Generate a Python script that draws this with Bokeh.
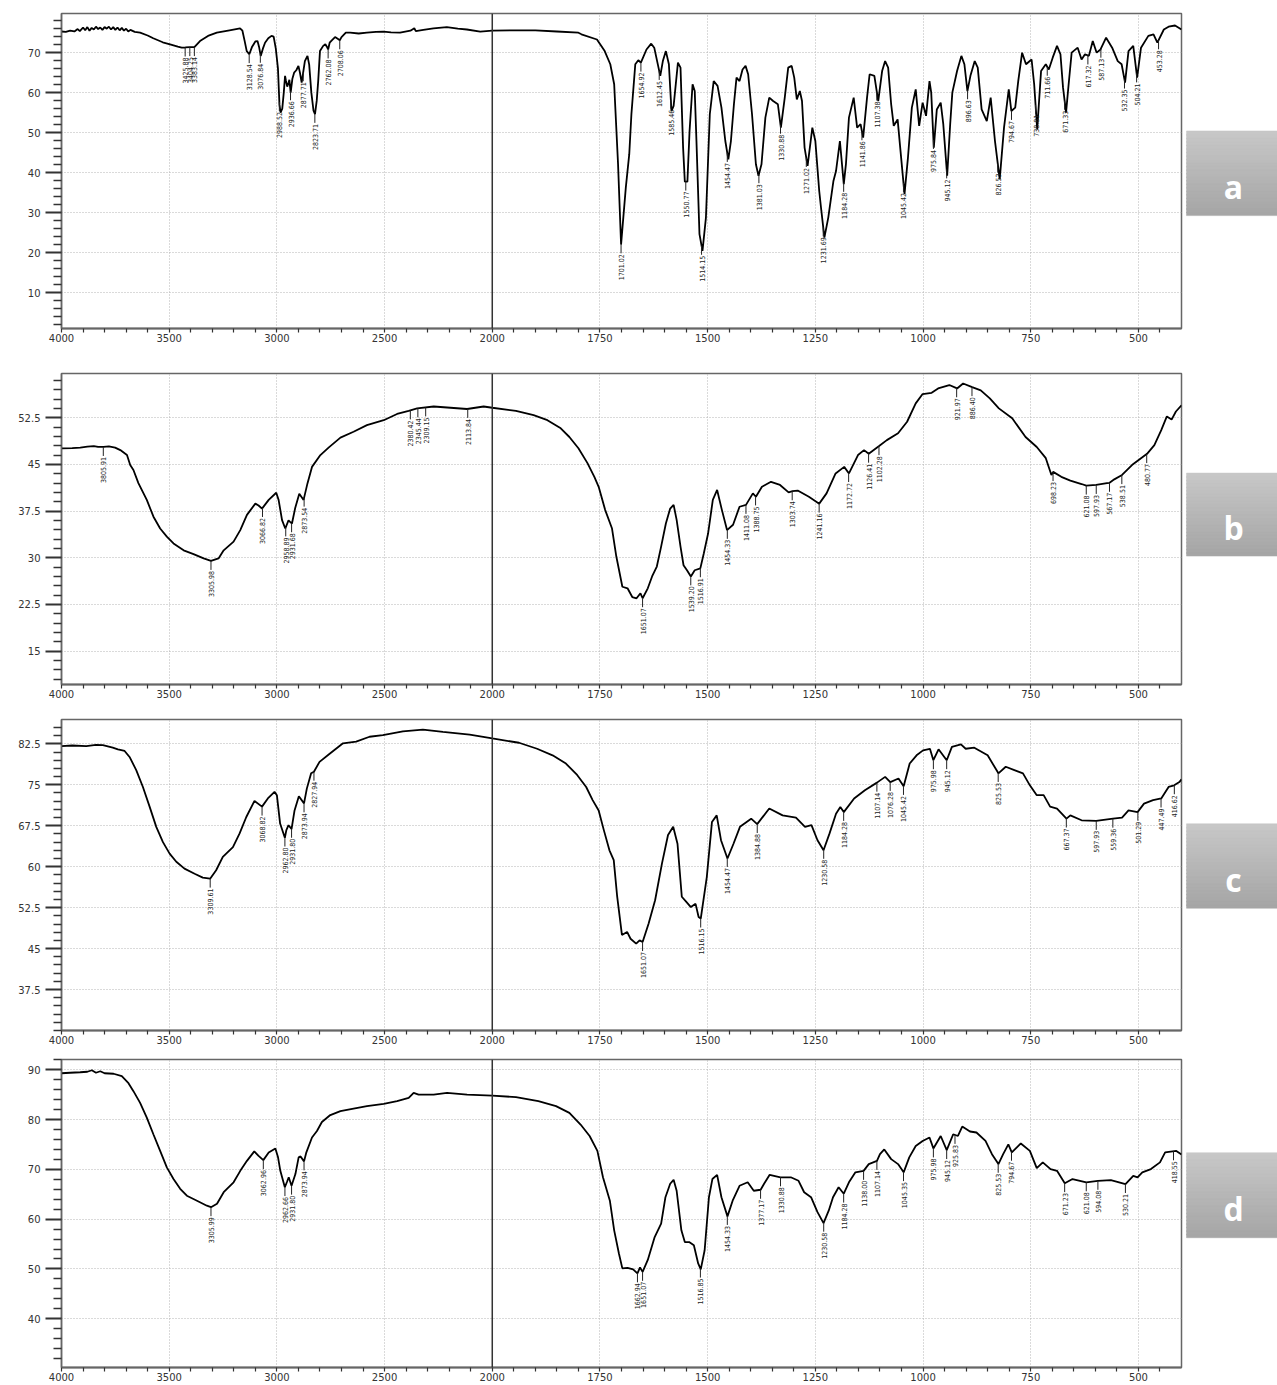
import numpy as np
from bokeh.plotting import figure
from bokeh.models import Range1d, FixedTicker, Span, Label, ColumnDataSource
from bokeh.layouts import column, row
from bokeh.embed import file_html
from bokeh.resources import INLINE
from bokeh.core.properties import value

# ---------------- data (wavenumber cm-1, %T) ----------------
WN_A = [4000, 3980, 3960, 3940, 3925, 3915, 3900, 3890, 3880, 3870,
        3860, 3850, 3840, 3830, 3820, 3810, 3800, 3790, 3780, 3770,
        3760, 3750, 3740, 3730, 3720, 3710, 3700, 3690, 3680, 3660,
        3635, 3600, 3574, 3530, 3496, 3460, 3442, 3425, 3404, 3383,
        3357, 3320, 3279, 3220, 3171, 3160, 3150, 3140, 3128, 3115,
        3100, 3090, 3083, 3075, 3065, 3055, 3040, 3025, 3015, 3005,
        2995, 2988, 2983, 2975, 2968, 2962, 2958, 2952, 2946, 2942,
        2936, 2928, 2920, 2910, 2900, 2893, 2885, 2878, 2870, 2858,
        2850, 2840, 2830, 2823, 2815, 2808, 2800, 2785, 2775, 2768,
        2762, 2755, 2745, 2730, 2716, 2708, 2700, 2680, 2660, 2620,
        2582, 2540, 2505, 2470, 2428, 2380, 2362, 2355, 2320, 2273,
        2211, 2160, 2118, 2056, 2000, 1950, 1900, 1850, 1800, 1793,
        1757, 1739, 1726, 1717, 1708, 1701, 1690, 1682, 1677, 1668,
        1661, 1655, 1642, 1631, 1624, 1610, 1604, 1597, 1590, 1584,
        1579, 1569, 1563, 1557, 1553, 1547, 1542, 1535, 1530, 1526,
        1519, 1512, 1504, 1495, 1486, 1477, 1468, 1459, 1452, 1446,
        1439, 1433, 1426, 1419, 1412, 1406, 1397, 1388, 1382, 1375,
        1366, 1357, 1348, 1337, 1330, 1321, 1313, 1305, 1299, 1293,
        1286, 1281, 1275, 1268, 1257, 1250, 1241, 1236, 1229, 1220,
        1208, 1202, 1193, 1184, 1179, 1172, 1161, 1153, 1145, 1139,
        1130, 1124, 1113, 1104, 1095, 1088, 1081, 1074, 1068, 1059,
        1053, 1043, 1035, 1026, 1017, 1009, 1001, 993, 985, 981,
        975, 968, 959, 953, 944, 937, 932, 921, 911, 904,
        897, 890, 880, 873, 864, 852, 843, 833, 822, 812,
        801, 795, 786, 779, 770, 761, 748, 742, 735, 726,
        715, 708, 699, 689, 681, 675, 668, 662, 655, 641,
        632, 624, 615, 606, 597, 588, 575, 561, 548, 539,
        531, 523, 512, 503, 494, 477, 465, 456, 441, 430,
        415, 400]
T_A = [75.3, 75.2, 75.5, 75.3, 75.9, 75.4, 76.3, 75.6, 76.4, 75.5,
       76.2, 75.8, 76.5, 75.9, 76.3, 75.7, 76.4, 76.0, 76.5, 75.8,
       76.4, 75.7, 76.3, 75.6, 76.2, 75.5, 76.0, 75.3, 75.7, 75.2,
       75.0, 74.3, 73.6, 72.6, 72.1, 71.5, 71.25, 71.3, 71.4, 71.4,
       72.9, 74.2, 75.0, 75.6, 76.1, 75.5, 73.0, 70.4, 69.6, 71.5,
       72.8, 72.9, 71.5, 69.2, 71.0, 72.5, 73.6, 74.2, 74.0, 71.0,
       66.0, 57.0, 55.0, 56.0, 60.0, 64.2, 63.0, 61.5, 62.5, 63.2,
       60.0, 63.5, 65.0, 65.6, 66.7, 65.0, 62.5, 65.0, 67.9, 69.2,
       67.0, 60.0, 55.5, 54.6, 58.0, 63.0, 70.4, 71.7, 72.1, 71.5,
       70.8, 72.5, 73.1, 73.9, 73.4, 73.1, 73.9, 75.0, 75.0, 74.8,
       75.0, 75.2, 75.25, 75.1, 75.0, 75.5, 76.1, 75.4, 75.7, 76.1,
       76.4, 76.0, 75.8, 75.25, 75.5, 75.6, 75.6, 75.3, 75.0, 74.6,
       73.3, 70.4, 67.1, 62.1, 42.1, 22.0, 36.25, 44.6, 54.6, 67.1,
       68.1, 67.5, 70.8, 72.25, 71.25, 64.2, 67.9, 70.4, 67.1, 55.4,
       56.7, 67.5, 66.25, 46.25, 37.75, 37.75, 50.4, 62.1, 60.4, 47.9,
       24.6, 20.4, 28.75, 54.6, 62.9, 61.7, 56.25, 47.9, 43.3, 47.9,
       57.1, 63.75, 62.9, 65.8, 66.7, 64.6, 54.6, 42.1, 39.2, 42.1,
       53.75, 58.75, 57.9, 57.1, 51.25, 58.75, 66.25, 66.7, 63.75, 58.3,
       60.4, 57.9, 46.25, 41.7, 51.25, 47.9, 35.4, 30.4, 23.75, 28.75,
       37.9, 40.4, 47.9, 37.1, 42.1, 53.75, 58.75, 51.25, 52.1, 48.75,
       58.75, 64.6, 64.2, 57.9, 65.4, 67.9, 66.25, 57.1, 51.7, 53.3,
       46.25, 34.6, 43.75, 56.25, 60.8, 51.7, 57.5, 54.2, 62.9, 60.0,
       46.25, 55.8, 57.5, 52.1, 39.2, 52.1, 60.0, 65.4, 69.2, 67.1,
       60.4, 64.2, 67.9, 66.25, 55.8, 52.9, 58.75, 47.9, 38.3, 51.25,
       60.8, 55.4, 56.25, 62.9, 70.0, 67.1, 68.3, 62.1, 50.8, 65.4,
       67.1, 65.8, 68.75, 71.7, 69.6, 61.25, 55.0, 62.1, 70.0, 71.25,
       68.3, 69.6, 69.2, 72.9, 70.0, 70.8, 73.75, 71.25, 67.9, 67.1,
       62.5, 70.4, 71.7, 63.75, 71.25, 74.2, 74.6, 72.5, 75.8, 76.5,
       76.8, 75.8]

WN_B = [4000, 3950, 3913, 3880, 3850, 3830, 3805, 3780, 3751, 3727,
        3696, 3681, 3666, 3643, 3604, 3573, 3542, 3511, 3480, 3433,
        3387, 3340, 3306, 3271, 3247, 3201, 3170, 3139, 3100, 3085,
        3069, 3038, 3003, 2992, 2976, 2961, 2946, 2940, 2930, 2915,
        2896, 2876, 2858, 2837, 2798, 2760, 2705, 2644, 2582, 2504,
        2442, 2388, 2349, 2272, 2194, 2117, 2040, 2000, 1945, 1904,
        1872, 1841, 1821, 1800, 1779, 1763, 1753, 1738, 1722, 1712,
        1698, 1686, 1675, 1665, 1656, 1651, 1639, 1629, 1618, 1608,
        1597, 1587, 1579, 1572, 1563, 1556, 1548, 1539, 1530, 1517,
        1509, 1499, 1488, 1478, 1467, 1455, 1441, 1426, 1411, 1395,
        1388, 1374, 1353, 1332, 1312, 1303, 1291, 1265, 1241, 1224,
        1203, 1183, 1172, 1151, 1137, 1126, 1102, 1084, 1058, 1037,
        1017, 1001, 980, 965, 939, 921, 907, 886, 866, 845,
        824, 793, 762, 736, 715, 702, 698, 679, 658, 632,
        621, 598, 573, 567, 556, 538, 515, 494, 480, 463,
        447, 434, 423, 413, 400]
T_B = [47.57, 47.6, 47.7, 47.85, 47.95, 47.8, 47.8, 47.9, 47.7, 47.3,
       46.5, 44.9, 44.1, 42.0, 39.3, 36.6, 34.7, 33.4, 32.3, 31.2,
       30.6, 29.9, 29.5, 29.9, 31.2, 32.6, 34.45, 36.9, 38.7, 38.4,
       37.9, 39.3, 40.45, 39.3, 36.05, 34.7, 36.0, 35.8, 35.5, 38.0,
       40.3, 39.3, 41.95, 44.6, 46.5, 47.7, 49.3, 50.25, 51.3, 52.1,
       53.1, 53.6, 54.0, 54.3, 54.1, 53.9, 54.3, 54.1, 53.6, 52.9,
       52.1, 50.8, 49.4, 47.6, 45.2, 43.0, 41.4, 37.7, 34.7, 30.2,
       25.35, 25.1, 23.7, 23.5, 24.3, 23.5, 25.1, 27.0, 28.6, 31.8,
       35.5, 37.9, 38.5, 36.1, 31.8, 28.8, 28.0, 27.0, 28.0, 28.3,
       30.7, 33.9, 39.3, 40.9, 37.7, 34.45, 35.3, 38.2, 38.5, 40.35,
       39.8, 41.4, 42.2, 41.7, 40.5, 40.7, 40.8, 39.8, 38.7, 40.35,
       43.55, 44.6, 43.55, 46.5, 47.3, 46.7, 47.95, 48.9, 50.0, 51.85,
       54.8, 56.3, 56.5, 57.2, 57.75, 57.2, 58.0, 57.4, 56.9, 55.6,
       54.0, 52.4, 49.4, 47.8, 46.0, 43.3, 43.8, 43.0, 42.4, 41.85,
       41.6, 41.7, 42.0, 42.05, 42.6, 43.3, 44.9, 46.0, 46.7, 48.1,
       50.5, 52.7, 52.2, 53.5, 54.5]

WN_C = [4000, 3950, 3885, 3840, 3808, 3762, 3738, 3707, 3684, 3653,
        3622, 3591, 3560, 3529, 3498, 3467, 3429, 3382, 3344, 3310,
        3282, 3251, 3204, 3173, 3142, 3104, 3069, 3042, 3011, 3000,
        2985, 2963, 2956, 2946, 2932, 2918, 2898, 2874, 2861, 2841,
        2828, 2802, 2755, 2693, 2632, 2570, 2508, 2415, 2322, 2229,
        2105, 2000, 1938, 1896, 1860, 1829, 1803, 1782, 1767, 1753,
        1741, 1728, 1718, 1710, 1699, 1687, 1679, 1666, 1658, 1651,
        1637, 1622, 1606, 1592, 1580, 1570, 1560, 1549, 1539, 1528,
        1521, 1516, 1502, 1490, 1479, 1469, 1454, 1440, 1425, 1399,
        1385, 1357, 1326, 1295, 1274, 1259, 1245, 1231, 1217, 1202,
        1192, 1184, 1160, 1135, 1107, 1088, 1076, 1057, 1045, 1031,
        1015, 1000, 984, 976, 964, 945, 933, 912, 901, 881,
        850, 825, 808, 788, 768, 752, 736, 720, 705, 689,
        667, 658, 632, 598, 559, 538, 523, 502, 487, 466,
        447, 430, 417, 405, 400]
T_C = [82.1, 82.2, 82.1, 82.3, 82.25, 81.8, 81.5, 81.2, 80.1, 77.7,
       74.6, 71.0, 67.3, 64.5, 62.4, 60.9, 59.65, 58.7, 58.0, 57.8,
       59.35, 61.8, 63.6, 66.1, 69.1, 72.05, 71.0, 72.5, 73.7, 73.1,
       67.9, 65.3, 66.7, 67.6, 66.9, 70.3, 72.9, 71.6, 74.3, 77.1,
       77.4, 79.2, 80.7, 82.6, 82.9, 83.8, 84.1, 84.8, 85.1, 84.7,
       84.2, 83.5, 82.7, 81.6, 80.4, 78.9, 76.8, 74.6, 72.2, 70.3,
       66.7, 63.0, 61.2, 54.5, 47.5, 48.05, 46.8, 45.9, 46.5, 46.2,
       49.6, 53.85, 60.6, 65.8, 67.3, 64.2, 54.5, 53.5, 52.6, 53.2,
       50.8, 50.5, 58.1, 68.2, 69.4, 64.85, 61.5, 64.2, 67.3, 68.8,
       67.8, 70.65, 69.4, 69.0, 67.3, 67.6, 64.85, 63.0, 66.1, 69.7,
       70.95, 70.0, 72.5, 74.0, 75.4, 76.45, 75.5, 76.15, 74.75, 78.9,
       80.4, 81.3, 81.6, 79.5, 81.5, 79.5, 81.95, 82.4, 81.6, 81.8,
       80.4, 77.1, 78.3, 77.7, 77.1, 74.9, 73.1, 73.1, 71.0, 70.65,
       68.8, 69.4, 68.5, 68.4, 68.8, 69.0, 70.3, 70.0, 71.55, 72.2,
       72.5, 74.6, 74.9, 75.5, 76.0]

WN_D = [4000, 3960, 3913, 3880, 3859, 3840, 3820, 3800, 3758, 3720,
        3689, 3666, 3635, 3604, 3573, 3542, 3511, 3480, 3449, 3418,
        3371, 3325, 3306, 3278, 3247, 3201, 3170, 3139, 3105, 3085,
        3063, 3038, 3007, 2995, 2984, 2963, 2952, 2945, 2932, 2914,
        2899, 2890, 2874, 2864, 2837, 2814, 2791, 2752, 2705, 2644,
        2582, 2504, 2442, 2388, 2365, 2342, 2272, 2210, 2117, 2000,
        1945, 1893, 1852, 1821, 1795, 1774, 1756, 1743, 1727, 1717,
        1706, 1698, 1686, 1673, 1663, 1657, 1651, 1639, 1623, 1608,
        1598, 1587, 1579, 1572, 1561, 1553, 1543, 1532, 1522, 1516,
        1507, 1497, 1489, 1478, 1468, 1454, 1442, 1426, 1407, 1393,
        1377, 1369, 1356, 1331, 1307, 1289, 1276, 1260, 1245, 1231,
        1219, 1209, 1196, 1184, 1172, 1157, 1138, 1126, 1107, 1100,
        1090, 1074, 1058, 1045, 1032, 1017, 1001, 985, 976, 959,
        945, 930, 919, 909, 891, 876, 855, 840, 825, 814,
        802, 794, 773, 752, 736, 722, 704, 689, 671, 653,
        621, 594, 564, 530, 512, 502, 491, 471, 450, 438,
        412, 400]
T_D = [89.3, 89.4, 89.5, 89.6, 89.9, 89.4, 89.7, 89.3, 89.2, 88.7,
       87.3, 85.7, 83.35, 80.4, 77.0, 73.7, 70.4, 68.05, 66.1, 64.7,
       63.7, 62.7, 62.4, 63.1, 65.4, 67.4, 69.7, 71.7, 73.6, 72.7,
       71.85, 73.4, 74.2, 72.5, 69.7, 66.4, 67.6, 68.4, 66.7, 69.05,
       72.4, 72.6, 71.6, 73.3, 76.4, 77.7, 79.5, 80.9, 81.7, 82.2,
       82.7, 83.15, 83.7, 84.35, 85.35, 85.0, 85.0, 85.35, 85.0, 84.8,
       84.5, 83.7, 82.7, 81.35, 79.0, 76.7, 73.7, 68.4, 63.7, 57.75,
       53.1, 50.1, 50.2, 49.9, 49.1, 50.3, 49.4, 51.8, 56.4, 59.1,
       64.4, 67.1, 67.9, 65.7, 57.75, 55.4, 55.4, 54.75, 51.1, 49.9,
       53.75, 64.4, 68.05, 68.9, 64.4, 60.55, 63.7, 66.7, 67.4, 65.7,
       65.9, 67.1, 68.9, 68.4, 68.4, 67.7, 65.4, 64.4, 61.4, 59.2,
       61.7, 64.4, 66.4, 65.1, 67.4, 69.4, 69.7, 71.05, 71.7, 73.05,
       74.0, 72.05, 71.05, 69.4, 72.4, 74.7, 75.7, 76.4, 74.2, 76.7,
       73.85, 77.05, 76.7, 78.6, 77.6, 77.4, 75.7, 73.05, 71.05, 73.05,
       75.0, 73.4, 75.2, 73.7, 70.25, 71.4, 70.05, 69.7, 67.2, 68.05,
       67.4, 67.7, 67.85, 67.05, 68.7, 68.4, 69.4, 70.05, 71.4, 73.4,
       73.7, 73.0]

# peak labels
LBL_A = ["3425.88", "3404.25", "3383.14", "3128.54", "3076.84", "2988.52", "2936.66",
         "2877.71", "2823.71", "2762.08", "2708.06", "1701.02", "1654.92", "1612.45",
         "1585.46", "1550.77", "1514.15", "1454.47", "1381.03", "1330.88", "1271.02",
         "1231.69", "1184.28", "1141.86", "1107.38", "1045.42", "975.84", "945.12",
         "896.63", "826.53", "794.67", "738.81", "711.66", "671.33", "617.32",
         "587.13", "532.35", "504.21", "453.28"]
LBL_B = ["3805.91", "3305.98", "3066.82", "2958.89", "2931.68", "2873.54", "2380.42",
         "2345.44", "2309.15", "2113.84", "1651.07", "1539.20", "1516.91", "1454.33",
         "1411.08", "1388.75", "1303.74", "1241.16", "1172.72", "1126.41", "1102.28",
         "921.97", "886.40", "698.23", "621.08", "597.93", "567.17", "538.51", "480.77"]
LBL_C = ["3309.61", "3068.82", "2962.80", "2931.80", "2873.94", "2827.94", "1651.07",
         "1516.15", "1454.47", "1384.88", "1230.58", "1184.28", "1107.14", "1076.28",
         "1045.42", "975.98", "945.12", "825.53", "667.37", "597.93", "559.36",
         "501.29", "447.49", "416.62"]
LBL_D = ["3305.99", "3062.96", "2962.66", "2931.80", "2873.94", "1662.94", "1651.07",
         "1516.85", "1454.33", "1377.17", "1330.88", "1230.58", "1184.28", "1138.00",
         "1107.14", "1045.35", "975.98", "945.12", "925.83", "825.53", "794.67",
         "671.23", "621.08", "594.08", "530.21", "418.55"]

# axes
X_MAJOR = [4000, 3500, 3000, 2500, 2000, 1750, 1500, 1250, 1000, 750, 500]
X_MINOR = [w for w in range(3900, 2000, -100) if w % 500] + \
          [w for w in range(1950, 400, -50) if w % 250]

YT_A = [10, 20, 30, 40, 50, 60, 70]
YT_B = [15, 22.5, 30, 37.5, 45, 52.5]
YT_C = [37.5, 45, 52.5, 60, 67.5, 75, 82.5]
YT_D = [40, 50, 60, 70, 80, 90]
YR_A = (1.0, 79.8)
YR_B = (9.65, 59.6)
YR_C = (30.0, 86.96)
YR_D = (30.2, 92.06)
YSTEP_A, YSTEP_B, YSTEP_C, YSTEP_D = 2.0, 1.5, 1.5, 2.0
PCT_Y = {"a": 65.0, "b": 48.75, "c": 78.7, "d": 85.0}

TICK_FONT = "DejaVu Sans"
LBL_FONT = "'Liberation Sans Narrow', 'DejaVu Sans Condensed', 'Roboto Condensed', sans-serif"
PW = 1183
BW = 94


def xmap(w):
    w = np.asarray(w, dtype=float)
    return np.where(w >= 2000, 4000.0 - w, 2000.0 + 2.0 * (2000.0 - w))


def fmt(v):
    return "%g" % v


def minor_list(yr, step, majors):
    out = []
    v = np.ceil(yr[0] / step) * step
    while v <= yr[1] + 1e-9:
        if all(abs(v - m) > 1e-6 for m in majors):
            out.append(float(round(v, 3)))
        v += step
    return out


def build_panel(wn, tv, labels, yr, yt, ystep, pct_y, btop, fh, bbot):
    H = btop + fh + bbot
    p = figure(width=PW, height=H, x_range=Range1d(0, 5200), y_range=Range1d(*yr),
               output_backend="svg", toolbar_location=None,
               min_border_left=61, min_border_right=2,
               min_border_top=btop, min_border_bottom=bbot)
    p.background_fill_color = "white"
    p.border_fill_color = "white"
    p.outline_line_color = "#666666"
    p.outline_line_width = 1.5

    xt = FixedTicker(ticks=[float(xmap(w)) for w in X_MAJOR],
                     minor_ticks=[float(xmap(w)) for w in X_MINOR])
    p.xaxis.ticker = xt
    p.xgrid.ticker = xt
    p.xaxis.major_label_overrides = {float(xmap(w)): str(w) for w in X_MAJOR}
    yt_t = FixedTicker(ticks=[float(v) for v in yt], minor_ticks=minor_list(yr, ystep, yt))
    p.yaxis.ticker = yt_t
    p.ygrid.ticker = yt_t
    p.yaxis.major_label_overrides = {float(v): fmt(v) for v in yt}

    for ax in (p.xaxis, p.yaxis):
        ax.major_label_text_font = TICK_FONT
        ax.major_label_text_font_size = "10px"
        ax.major_label_text_color = "#333333"
        ax.axis_line_color = "#666666"
        ax.major_tick_line_color = "#333333"
        ax.minor_tick_line_color = "#333333"
        ax.major_tick_in = 0
        ax.minor_tick_in = 0
    p.xaxis.axis_line_width = 2
    p.xaxis.major_tick_out = 4
    p.xaxis.minor_tick_out = 4
    p.xaxis.major_tick_line_width = 1.2
    p.xaxis.minor_tick_line_width = 1.2
    p.xaxis.major_label_standoff = 1
    p.yaxis.axis_line_width = 1.5
    p.yaxis.major_tick_out = 16
    p.yaxis.minor_tick_out = 8
    p.yaxis.major_tick_line_width = 2
    p.yaxis.minor_tick_line_width = 1.5
    p.yaxis.major_label_standoff = 5

    for g in (p.xgrid, p.ygrid):
        g.grid_line_color = "#b4b4b4"
        g.grid_line_dash = "1 2"
        g.grid_line_width = 1

    p.add_layout(Span(location=2000, dimension="height", line_color="#333333", line_width=1.5))

    wn_arr = np.asarray(wn, dtype=float)
    tv_arr = np.asarray(tv, dtype=float)
    p.line(x=xmap(wn_arr), y=tv_arr, line_color="#000000", line_width=1.8)

    lw = np.array([float(s) for s in labels])
    ly = np.interp(lw, wn_arr[::-1], tv_arr[::-1])
    upp = (yr[1] - yr[0]) / fh
    src = ColumnDataSource(dict(x=xmap(lw), y=ly, y2=ly - 9 * upp, t=labels))
    p.segment(x0="x", y0="y", x1="x", y1="y2", source=src, line_color="#222222", line_width=1)
    p.text(x="x", y="y2", text="t", source=src, angle=np.pi / 2, text_align="right",
           text_baseline="middle", text_font=value(LBL_FONT), text_font_size="7px",
           text_color="#222222", y_offset=1)

    p.add_layout(Label(x=-30, x_units="screen", y=pct_y, y_units="data", text="%T",
                       text_font=TICK_FONT, text_font_size="10px", text_color="#333333",
                       text_align="center", text_baseline="middle"))
    return p, H


def build_box(letter, H, top, bot):
    b = figure(width=BW, height=H, x_range=Range1d(0, BW), y_range=Range1d(H, 0),
               output_backend="svg", toolbar_location=None,
               x_axis_location=None, y_axis_location=None, min_border=0)
    b.grid.visible = False
    b.outline_line_color = None
    b.background_fill_color = "white"
    b.border_fill_color = "white"
    n = 24
    edges = np.linspace(top, bot, n + 1)
    c0 = np.array([200.0, 200.0, 200.0])
    c1 = np.array([165.0, 165.0, 165.0])
    cols = ["#%02x%02x%02x" % tuple(int(round(v)) for v in c0 + (c1 - c0) * (i + 0.5) / n)
            for i in range(n)]
    bottoms = np.minimum(edges[1:] + 1.0, bot)
    b.quad(left=3, right=BW, top=edges[:-1], bottom=bottoms, fill_color=cols,
           line_color=cols, line_width=0.5)
    b.text(x=[50], y=[(top + bot) / 2 + 15], text=[letter], text_align="center",
           text_baseline="alphabetic", text_color="white", text_font=value("Open Sans"),
           text_font_size="32px", text_font_style="bold")
    return b


specs = [
    (WN_A, T_A, LBL_A, YR_A, YT_A, YSTEP_A, "a", 13, 315, 18, 129, 222),
    (WN_B, T_B, LBL_B, YR_B, YT_B, YSTEP_B, "b", 27, 311, 18, 114, 209),
    (WN_C, T_C, LBL_C, YR_C, YT_C, YSTEP_C, "c", 17, 311, 18, 116, 210),
    (WN_D, T_D, LBL_D, YR_D, YT_D, YSTEP_D, "d", 11, 308, 18, 102, 195),
]

rows = []
for wn, tv, lbl, yr, yt, ys, let, bt, fh, bb, bx0, bx1 in specs:
    assert len(wn) == len(tv)
    p, H = build_panel(wn, tv, lbl, yr, yt, ys, PCT_Y[let], bt, fh, bb)
    box = build_box(let, H, bx0, bx1)
    rows.append(row(p, box))

layout = column(*rows)
open("out.html", "w").write(file_html(layout, INLINE, title="FTIR spectra"))
